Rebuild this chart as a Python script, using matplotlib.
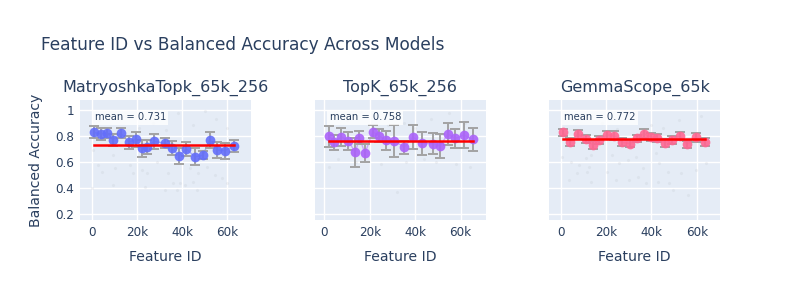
import matplotlib
matplotlib.use("Agg")
import matplotlib.pyplot as plt
from matplotlib.ticker import FuncFormatter

plt.rcParams['font.family'] = ['DejaVu Sans']

text_col = '#2a3f5f'

models = ['MatryoshkaTopk_65k_256', 'TopK_65k_256', 'GemmaScope_65k']
colors = ['#636EFA', '#AB63FA', '#FF6692']
means = [0.731, 0.758, 0.772]

# binned points (feature id, mean acc, error)
matry_x = [1000, 4000, 6900, 9400, 12800, 16500, 19500, 22300, 24600, 27600,
           32300, 35500, 38600, 41900, 45600, 49200, 52300, 55600, 59000, 62800]
matry_y = [0.824, 0.811, 0.819, 0.768, 0.819, 0.750, 0.771, 0.702, 0.712, 0.755,
           0.742, 0.707, 0.643, 0.697, 0.638, 0.648, 0.768, 0.689, 0.684, 0.720]
matry_err = [0.046, 0.047, 0.040, 0.045, 0.040, 0.050, 0.055, 0.065, 0.055, 0.055,
             0.040, 0.055, 0.060, 0.055, 0.065, 0.030, 0.060, 0.060, 0.060, 0.045]

topk_x = [2200, 4400, 7500, 10500, 13700, 15500, 17900, 21400, 24100, 27300,
          30800, 35300, 39100, 43200, 47700, 51100, 54400, 57700, 61400, 65400]
topk_y = [0.796, 0.748, 0.791, 0.758, 0.671, 0.783, 0.664, 0.829, 0.799, 0.763,
          0.758, 0.712, 0.788, 0.740, 0.738, 0.720, 0.814, 0.778, 0.804, 0.771]
topk_err = [0.08, 0.06, 0.07, 0.07, 0.11, 0.05, 0.07, 0.05, 0.05, 0.07,
            0.12, 0.05, 0.09, 0.09, 0.08, 0.095, 0.085, 0.07, 0.10, 0.09]

gemma_x = [1000, 4200, 7600, 11100, 14200, 17100, 20500, 23700, 27100, 30500,
           33500, 36700, 39700, 42600, 45900, 49000, 52400, 55600, 59600, 63600]
gemma_y = [0.824, 0.753, 0.809, 0.773, 0.727, 0.768, 0.804, 0.799, 0.748, 0.738,
           0.778, 0.814, 0.788, 0.784, 0.745, 0.768, 0.799, 0.732, 0.788, 0.748]
gemma_err = [0.03, 0.03, 0.035, 0.03, 0.03, 0.03, 0.03, 0.035, 0.03, 0.025,
             0.03, 0.035, 0.03, 0.03, 0.03, 0.03, 0.03, 0.03, 0.035, 0.03]

# faint individual features in the background
matry_raw_x = [700, 2900, 4400, 9600, 10300, 9600, 16900, 18400, 22100, 24300,
               23600, 28700, 33900, 36100, 37600, 39100, 41300, 44900, 46400, 47200,
               50900, 54600, 57500, 59700, 0, 32400, 43500, 3000, 15000, 27000,
               38000, 45000, 55000, 60000, 21000, 33000, 50000]
matry_raw_y = [0.689, 0.574, 0.523, 0.651, 0.548, 0.421, 0.574, 0.51, 0.536, 0.51,
               0.408, 0.6, 0.51, 0.433, 0.382, 0.433, 0.42, 0.446, 0.382, 0.51,
               0.561, 0.497, 0.472, 0.433, 0.395, 0.382, 0.548, 0.92, 0.95, 0.9,
               0.97, 0.88, 0.93, 0.86, 0.86, 0.84, 0.99]

topk_raw_x = [2000, 6000, 14000, 19000, 25000, 32000, 36000, 44000, 49000, 58000,
              64000, 10000, 22000, 35000, 47000, 55000, 40000, 28000, 62000, 16000]
topk_raw_y = [0.56, 0.62, 0.60, 0.64, 0.58, 0.37, 0.60, 0.62, 0.60, 0.58,
              0.56, 0.92, 0.95, 0.90, 0.93, 0.97, 0.86, 0.88, 0.90, 0.98]

gemma_raw_x = [700, 4400, 8100, 11000, 12500, 13300, 11800, 7400, 3700, 13300,
               20600, 22800, 25800, 29500, 30200, 33200, 36100, 37600, 42000, 43500,
               42800, 47200, 47900, 49400, 53100, 56000, 59700, 64100, 24300, 33900,
               5000, 18000, 30000, 40000, 52000, 62000, 25000, 45000]
gemma_raw_y = [0.638, 0.6, 0.574, 0.625, 0.561, 0.651, 0.523, 0.51, 0.459, 0.446,
               0.523, 0.651, 0.587, 0.612, 0.459, 0.638, 0.548, 0.433, 0.664, 0.587,
               0.446, 0.523, 0.433, 0.382, 0.51, 0.344, 0.536, 0.587, 0.459, 0.485,
               0.93, 0.90, 0.96, 0.88, 0.92, 0.95, 0.85, 0.86]

bins_x = [matry_x, topk_x, gemma_x]
bins_y = [matry_y, topk_y, gemma_y]
bins_err = [matry_err, topk_err, gemma_err]
raw_x = [matry_raw_x, topk_raw_x, gemma_raw_x]
raw_y = [matry_raw_y, topk_raw_y, gemma_raw_y]

fig = plt.figure(figsize=(8, 3), dpi=100)
fig.patch.set_facecolor('white')

lefts = [80, 315, 549.3]
xlims = [(-5200, 70400), (-4100, 71100), (-5000, 70200)]

fmt = FuncFormatter(lambda v, p: '0' if v == 0 else '%dk' % round(v / 1000))

for i in range(3):
    ax = fig.add_axes([lefts[i] / 800, 80 / 300, 170.7 / 800, 120 / 300])
    ax.set_facecolor('#E5ECF6')
    for s in ax.spines.values():
        s.set_visible(False)
    ax.set_axisbelow(True)
    ax.grid(True, color='white', lw=1)

    ax.scatter(raw_x[i], raw_y[i], s=5, color='#b8bcc4', alpha=0.18, lw=0, zorder=1)
    ax.plot(bins_x[i], bins_y[i], color=colors[i], lw=1, alpha=0.5, zorder=2)
    ax.errorbar(bins_x[i], bins_y[i], yerr=bins_err[i], fmt='none', ecolor='#a3a3a3',
                elinewidth=1.4, capsize=3.6, capthick=1.4, zorder=3)
    ax.plot(bins_x[i], bins_y[i], 'o', color=colors[i], markersize=7, alpha=0.9,
            markeredgewidth=0, zorder=4)
    ax.plot([bins_x[i][0], bins_x[i][-1]], [means[i], means[i]], color='red', lw=1.8, zorder=5)

    ax.text(0.085, 0.858, 'mean = %.3f' % means[i], transform=ax.transAxes,
            fontsize=7.2, color=text_col, va='center', ha='left', zorder=6,
            bbox=dict(boxstyle='square,pad=0.25', fc='white', ec='none', alpha=0.8))

    ax.set_xlim(*xlims[i])
    ax.set_ylim(0.152, 1.073)
    ax.set_xticks([0, 20000, 40000, 60000])
    ax.xaxis.set_major_formatter(fmt)
    ax.set_yticks([0.2, 0.4, 0.6, 0.8, 1.0])
    ax.tick_params(length=0, labelsize=8.64, colors=text_col, pad=4)
    if i == 0:
        ax.set_yticklabels(['0.2', '0.4', '0.6', '0.8', '1'])
        ax.set_ylabel('Balanced Accuracy', fontsize=10.08, color=text_col, labelpad=9)
    else:
        ax.set_yticklabels([])
    ax.set_xlabel('Feature ID', fontsize=10.08, color=text_col, labelpad=8)
    ax.set_title(models[i], fontsize=11.52, color=text_col, pad=6)

fig.text(40.7 / 800, 1 - 50 / 300, 'Feature ID vs Balanced Accuracy Across Models',
         fontsize=12.24, color=text_col, ha='left', va='baseline')

fig.savefig('out.png', dpi=100)
